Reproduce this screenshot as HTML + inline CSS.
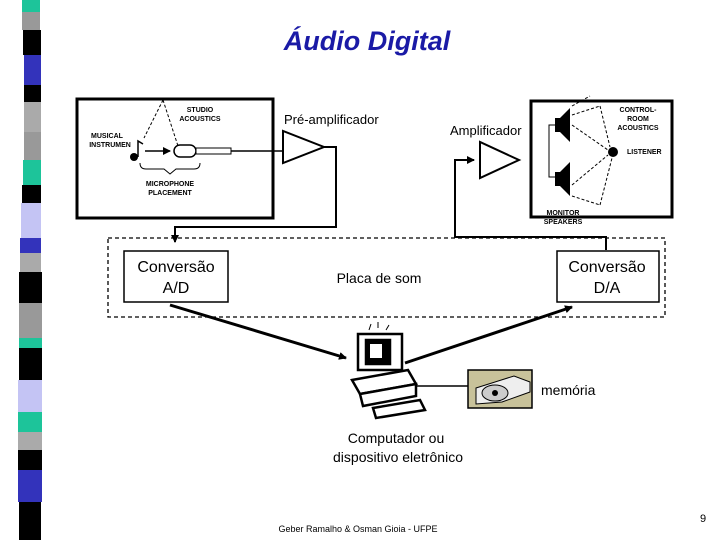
<!DOCTYPE html>
<html><head><meta charset="utf-8"><style>
html,body{margin:0;padding:0;background:#fff;}
svg{display:block;font-family:"Liberation Sans",sans-serif;}
</style></head><body>
<svg width="720" height="540" viewBox="0 0 720 540" xmlns="http://www.w3.org/2000/svg">
<defs><marker id="a" markerWidth="8" markerHeight="8" refX="7" refY="4" orient="auto" markerUnits="userSpaceOnUse"><path d="M0,0 L8,4 L0,8z" fill="#000"/></marker></defs>
<g>
<rect x="22" y="0" width="18" height="12" fill="#1dc49a"/>
<rect x="22" y="12" width="18" height="18" fill="#999"/>
<rect x="23" y="30" width="18" height="25" fill="#000"/>
<rect x="24" y="55" width="17" height="30" fill="#3333bb"/>
<rect x="24" y="85" width="17" height="17" fill="#000"/>
<rect x="24" y="102" width="17" height="30" fill="#aaa"/>
<rect x="24" y="132" width="17" height="28" fill="#999"/>
<rect x="23" y="160" width="18" height="25" fill="#1dc49a"/>
<rect x="22" y="185" width="19" height="18" fill="#000"/>
<rect x="21" y="203" width="20" height="35" fill="#c4c4f4"/>
<rect x="20" y="238" width="21" height="15" fill="#3333bb"/>
<rect x="20" y="253" width="21" height="19" fill="#aaa"/>
<rect x="19" y="272" width="23" height="31" fill="#000"/>
<rect x="19" y="303" width="23" height="35" fill="#999"/>
<rect x="19" y="338" width="23" height="10" fill="#1dc49a"/>
<rect x="19" y="348" width="23" height="32" fill="#000"/>
<rect x="18" y="380" width="24" height="32" fill="#c4c4f4"/>
<rect x="18" y="412" width="24" height="20" fill="#1dc49a"/>
<rect x="18" y="432" width="24" height="18" fill="#aaa"/>
<rect x="18" y="450" width="24" height="20" fill="#000"/>
<rect x="18" y="470" width="24" height="32" fill="#3333bb"/>
<rect x="19" y="502" width="22" height="38" fill="#000"/>
</g>
<text x="367" y="50" font-size="27" font-weight="bold" font-style="italic" fill="#1a1aa6" text-anchor="middle">Áudio Digital</text>
<rect x="77" y="99" width="196" height="119" fill="#fff" stroke="#000" stroke-width="3"/>
<text x="200" y="112" font-size="7" font-weight="bold" text-anchor="middle">STUDIO</text>
<text x="200" y="121" font-size="7" font-weight="bold" text-anchor="middle">ACOUSTICS</text>
<text x="107" y="138" font-size="7" font-weight="bold" text-anchor="middle">MUSICAL</text>
<text x="110" y="147" font-size="7" font-weight="bold" text-anchor="middle">INSTRUMEN</text>
<text x="170" y="186" font-size="7" font-weight="bold" text-anchor="middle">MICROPHONE</text>
<text x="170" y="195" font-size="7" font-weight="bold" text-anchor="middle">PLACEMENT</text>
<path d="M163,100 L144,138 M163,100 L178,146" stroke="#000" stroke-dasharray="3,2" fill="none"/>
<circle cx="134" cy="157" r="4" fill="#000"/><path d="M138,157 V141 l5,3" stroke="#000" fill="none" stroke-width="1.5"/>
<path d="M145,151 H170" stroke="#000" stroke-width="1.5" marker-end="url(#a)"/>
<rect x="174" y="145" width="22" height="12" rx="6" fill="#fff" stroke="#000" stroke-width="1.5"/>
<rect x="196" y="148" width="35" height="6" fill="#fff" stroke="#000"/>
<path d="M140,163 q0,6 6,6 h18 l6,5 l6,-5 h18 q6,0 6,-6" stroke="#000" fill="none"/>
<path d="M231,151 H283" stroke="#000" stroke-width="1.5"/>
<text x="284" y="124" font-size="13">Pré-amplificador</text>
<path d="M283,131 L283,163 L324,147 Z" fill="#fff" stroke="#000" stroke-width="2"/>
<path d="M324,147 H336 V227 H175 V242" stroke="#000" stroke-width="2" fill="none" marker-end="url(#a)"/>
<rect x="531" y="101" width="141" height="116" fill="#fff" stroke="#000" stroke-width="3"/>
<text x="638" y="112" font-size="7" font-weight="bold" text-anchor="middle">CONTROL-</text>
<text x="638" y="121" font-size="7" font-weight="bold" text-anchor="middle">ROOM</text>
<text x="638" y="130" font-size="7" font-weight="bold" text-anchor="middle">ACOUSTICS</text>
<text x="627" y="154" font-size="7" font-weight="bold">LISTENER</text>
<text x="563" y="215" font-size="7" font-weight="bold" text-anchor="middle">MONITOR</text>
<text x="563" y="224" font-size="7" font-weight="bold" text-anchor="middle">SPEAKERS</text>
<path d="M555,118 h5 l10,-10 v34 l-10,-10 h-5z" fill="#000"/>
<path d="M555,172 h5 l10,-10 v34 l-10,-10 h-5z" fill="#000"/>
<path d="M555,125 h-6 v52 h6" stroke="#000" fill="none"/>
<circle cx="613" cy="152" r="5" fill="#000"/>
<path d="M572,125 L608,150 M572,185 L608,155 M572,115 L600,106 M600,106 L610,147 M572,196 L600,205 M600,205 L612,158 M572,106 L590,96" stroke="#000" stroke-dasharray="3,2" fill="none"/>
<text x="450" y="135" font-size="13">Amplificador</text>
<path d="M480,142 L480,178 L519,160 Z" fill="#fff" stroke="#000" stroke-width="2"/>
<path d="M606,250 V237 H455 V160 H474" stroke="#000" stroke-width="2" fill="none" marker-end="url(#a)"/>
<rect x="108" y="238" width="557" height="79" fill="none" stroke="#000" stroke-width="1.3" stroke-dasharray="4,3"/>
<rect x="124" y="251" width="104" height="51" fill="#fff" stroke="#000" stroke-width="1.5"/>
<text x="176" y="272" font-size="16" text-anchor="middle">Conversão</text>
<text x="176" y="293" font-size="16" text-anchor="middle">A/D</text>
<rect x="557" y="251" width="102" height="51" fill="#fff" stroke="#000" stroke-width="1.5"/>
<text x="607" y="272" font-size="16" text-anchor="middle">Conversão</text>
<text x="607" y="293" font-size="16" text-anchor="middle">D/A</text>
<text x="379" y="283" font-size="14" text-anchor="middle">Placa de som</text>
<path d="M170,305 L346,358" stroke="#000" stroke-width="3" marker-end="url(#a)"/>
<path d="M405,363 L572,307" stroke="#000" stroke-width="3" marker-end="url(#a)"/>
<g stroke="#000" fill="#fff" stroke-width="2.5">
<rect x="358" y="334" width="44" height="36"/>
<rect x="366" y="340" width="24" height="24" fill="#000"/>
<path d="M352,380 L408,370 L416,384 L360,394Z"/>
<path d="M360,394 L416,384 L416,396 L363,406Z"/>
<path d="M373,408 L420,400 L425,410 L376,418Z"/>
</g>
<rect x="370" y="344" width="12" height="14" fill="#fff"/>
<path d="M369,330 l2,-6 M378,328 v-6 M386,330 l3,-5" stroke="#000"/>
<path d="M416,386 H468" stroke="#000" stroke-width="1.5"/>
<rect x="468" y="370" width="64" height="38" fill="#c8c29a" stroke="#000" stroke-width="1.5"/>
<path d="M476,388 L514,376 L530,382 L530,392 L502,402 L476,404Z" fill="#eee" stroke="#000"/>
<ellipse cx="495" cy="393" rx="13" ry="8" fill="#ccc" stroke="#000"/>
<circle cx="495" cy="393" r="3" fill="#000"/>
<text x="541" y="395" font-size="14">memória</text>
<text x="396" y="443" font-size="14" text-anchor="middle">Computador ou</text>
<text x="398" y="462" font-size="14" text-anchor="middle">dispositivo eletrônico</text>
<text x="358" y="532" font-size="9" text-anchor="middle">Geber Ramalho &amp; Osman Gioia - UFPE</text>
<text x="703" y="522" font-size="11" text-anchor="middle">9</text>
</svg>
</body></html>
